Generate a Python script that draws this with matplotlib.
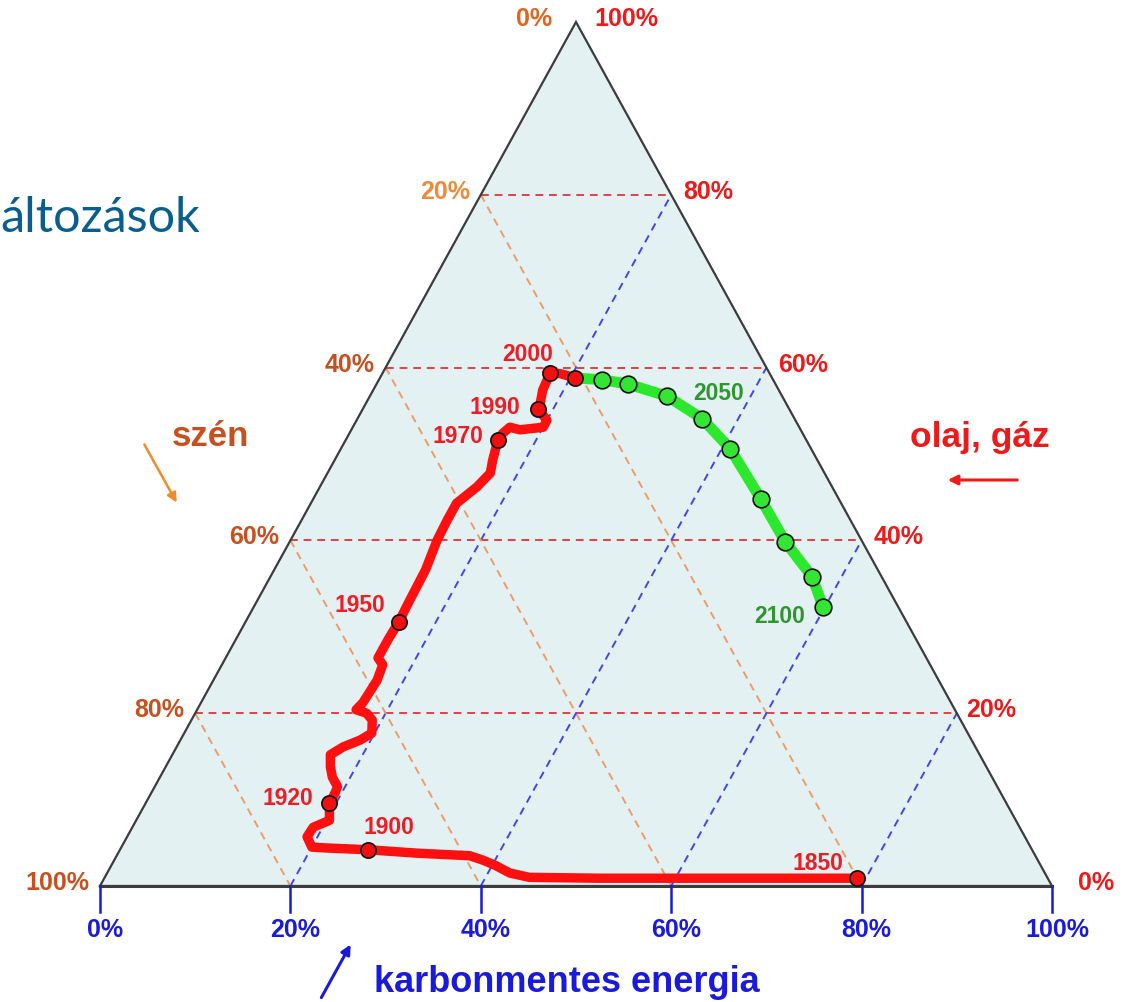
import numpy as np
import matplotlib.pyplot as plt

plt.rcParams['font.family'] = ['Liberation Sans', 'DejaVu Sans']

# ternary data in percent: carbon-free share (bottom axis) and oil+gas share (right axis)
# coal share = 100 - carbon-free - oil/gas
hist_cf = [79.1, 62.6, 52.1, 44.6, 42.3, 40.3, 38.7, 37.1, 31.4, 26.0, 21.6, 20.0, 18.9,
           19.0, 20.3, 19.3, 19.3, 19.2, 18.1, 17.3, 16.6, 17.5, 18.9, 19.7, 19.0, 18.0,
           16.7, 17.0, 17.2, 16.9, 16.0, 16.0, 16.1, 16.0, 15.9, 15.4, 15.3, 15.3, 16.5,
           17.1, 16.6, 16.0, 16.1, 16.5, 17.7, 20.0, 20.0, 18.4, 18.3, 17.8, 17.6, 18.7, 20.5]
hist_og = [0.9, 0.9, 0.9, 1.0, 1.5, 2.4, 3.0, 3.5, 3.8, 4.2, 4.4, 4.5, 5.7,
           6.8, 7.6, 9.6, 10.8, 11.5, 12.6, 13.8, 15.2, 16.1, 16.9, 17.7, 19.2, 20.0,
           20.4, 21.2, 23.8, 25.6, 26.4, 28.5, 30.6, 33.1, 36.6, 40.0, 42.4, 44.3, 46.2,
           47.8, 49.3, 51.6, 52.4, 53.1, 52.8, 53.1, 53.9, 55.2, 55.9, 57.4, 59.4, 59.3, 58.8]

year_labels = ['1850', '1900', '1920', '1950', '1970', '1990', '2000', '']
year_cf = [79.1, 26.0, 19.3, 16.1, 16.0, 18.4, 17.6, 20.5]
year_og = [0.9, 4.2, 9.6, 30.6, 51.6, 55.2, 59.4, 58.8]
year_offsets = [(-39, 15), (21, 22), (-42, 5), (-39, 16), (-40, 4), (-43, 2), (-23, 18), (0, 0)]

scen_cf = [20.5, 23.4, 26.4, 31.2, 36.2, 40.9, 47.0, 52.1, 56.9, 59.8]
scen_og = [58.8, 58.6, 58.1, 56.7, 54.1, 50.6, 44.8, 39.8, 35.8, 32.3]
scen_labels = {4: ('2050', (16, 25)), 9: ('2100', (-43, -10))}

ticks = [0, 20, 40, 60, 80, 100]

RED = '#EE1C24'
ORANGE = '#C8501E'
BLUE = '#1A1ADC'


def tern(cf, og):
    cf = np.asarray(cf, dtype=float) / 100
    og = np.asarray(og, dtype=float) / 100
    return cf + og / 2, og


fig = plt.figure(figsize=(11.33, 10.02), dpi=100)
bg = fig.add_axes([0, 0, 1, 1])
bg.set_xlim(0, 1133)
bg.set_ylim(1002, 0)
bg.axis('off')

ax = fig.add_axes([100 / 1133, 116 / 1002, 952 / 1133, 864 / 1002])
ax.set_xlim(0, 1)
ax.set_ylim(0, 1)
ax.axis('off')

# triangle
ax.fill([0, 1, 0.5], [0, 0, 1], color='#E4F1F3', zorder=0)

# grid
for v in ticks[1:-1]:
    x, y = tern([0, 100 - v], [v, v])
    ax.plot(x, y, ls=(0, (4, 3)), color='#E0404A', lw=1.4, zorder=1)
    x, y = tern([0, 100 - v], [100 - v, 0])
    ax.plot(x, y, ls=(0, (4, 3)), color='#EC9C68', lw=1.4, zorder=1)
    x, y = tern([v, v], [0, 100 - v])
    ax.plot(x, y, ls=(0, (4, 3)), color='#4444E8', lw=1.4, zorder=1)

ax.plot([0, 1, 0.5, 0], [0, 0, 1, 0], color='#3C3C3C', lw=1.6, zorder=2,
        clip_on=False, solid_joinstyle='miter')
ax.plot([0, 1], [0, 0], color='#3C3C3C', lw=2.2, zorder=2, clip_on=False)

# bottom axis ticks and labels (carbon-free)
for t in ticks:
    x, y = tern(t, 0)
    ax.plot([x, x], [0, -0.03], color=BLUE, lw=1.8, clip_on=False, zorder=2)
    ax.annotate(f'{t}%', (x, 0), xytext=(5, -44), textcoords='offset pixels',
                ha='center', va='center', color=BLUE, fontsize=18, fontweight='bold')

# left labels (coal)
for t in ticks:
    x, y = tern(0, 100 - t)
    col = '#F08A3A' if t == 20 else ('#E2641E' if t == 0 else ORANGE)
    dx = -24 if t == 0 else -11
    ax.annotate(f'{t}%', (x, y), xytext=(dx, 3), textcoords='offset pixels',
                ha='right', va='center', color=col, fontsize=18, fontweight='bold')

# right labels (oil, gas)
for t in ticks:
    x, y = tern(100 - t, t)
    dx = {100: 18, 0: 26, 20: 9}.get(t, 12)
    ax.annotate(f'{t}%', (x, y), xytext=(dx, 3), textcoords='offset pixels',
                ha='left', va='center', color='#F01818', fontsize=18, fontweight='bold')

# historical path
x, y = tern(hist_cf, hist_og)
ax.plot(x, y, color='#FF1010', lw=6.8, solid_joinstyle='round', solid_capstyle='round',
        zorder=4)

# scenario path
x, y = tern(scen_cf, scen_og)
ax.plot(x, y, color='#2CE82C', lw=7.8, solid_joinstyle='round', solid_capstyle='round',
        zorder=5)
ax.plot(x[1:], y[1:], 'o', ms=12, mfc='#33E633', mec='#111111', mew=1.2, zorder=6)
for i, (lab, off) in scen_labels.items():
    ax.annotate(lab, (x[i], y[i]), xytext=off, textcoords='offset pixels',
                ha='center', va='center', color='#2F962F', fontsize=16.5, fontweight='bold')

x, y = tern(year_cf, year_og)
ax.plot(x, y, 'o', ms=11, mfc='#F01010', mec='#111111', mew=1.2, zorder=7)
for xi, yi, lab, off in zip(x, y, year_labels, year_offsets):
    if lab:
        ax.annotate(lab, (xi, yi), xytext=off, textcoords='offset pixels',
                    ha='center', va='center', color=RED, fontsize=16.5, fontweight='bold')

# axis names and arrows
bg.text(210, 437, 'szén', ha='center', va='center', color=ORANGE, fontsize=25,
        fontweight='bold')
bg.annotate('', xy=(178, 505), xytext=(143, 442),
            arrowprops=dict(arrowstyle='-|>', color='#F08A2A', lw=1.8, mutation_scale=14))
bg.text(980, 437, 'olaj, gáz', ha='center', va='center', color='#F01818', fontsize=25.5,
        fontweight='bold')
bg.annotate('', xy=(945, 480), xytext=(1020, 480),
            arrowprops=dict(arrowstyle='-|>', color='#F01818', lw=2.2, mutation_scale=14))
bg.text(567, 983, 'karbonmentes energia', ha='center', va='center', color=BLUE,
        fontsize=26, fontweight='bold')
bg.annotate('', xy=(352, 942), xytext=(320, 1000),
            arrowprops=dict(arrowstyle='-|>', color=BLUE, lw=2.2, mutation_scale=14))

bg.text(0, 232, 'áltozások', ha='left', va='baseline', color='#0A5E8E', fontsize=35,
        family=['Lato', 'DejaVu Sans'])

fig.savefig('out.png', dpi=100)
